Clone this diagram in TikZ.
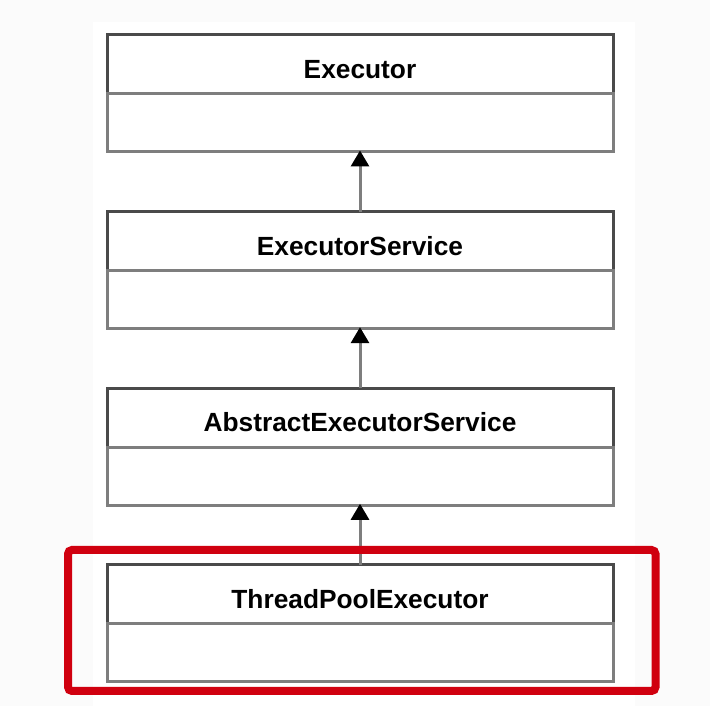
\documentclass[tikz,border=0pt]{standalone}
\usepackage{fontspec}
\setmainfont{Liberation Sans}
\usetikzlibrary{arrows.meta}
\definecolor{bgout}{HTML}{FBFBFB}
\definecolor{hdline}{HTML}{4A4A4A}
\definecolor{bdline}{HTML}{7E7E7E}
\definecolor{hilite}{HTML}{D0000F}
\tikzset{
  x=1pt, y=1pt,
  header/.style={draw=hdline, line width=3pt, fill=white, minimum width=506pt, minimum height=59pt,
    inner sep=0pt, outer sep=0pt, text height=28.3pt, text depth=0pt, font=\fontsize{26.3}{28}\selectfont\bfseries, text=black},
  body/.style={draw=bdline, line width=3pt, minimum width=506pt, minimum height=58pt, inner sep=0pt, outer sep=0pt},
  inherit/.style={draw=bdline, line width=3pt, -{Triangle[color=black, width=18pt, length=16pt]}, shorten >=-1.5pt},
  focus/.style={draw=hilite, line width=8pt, rounded corners=4pt}
}
\begin{document}
\begin{tikzpicture}
\useasboundingbox (0,0) rectangle (710,706);
\fill[bgout] (0,0) rectangle (710,706);
\fill[white] (93,0) rectangle (635,684);
% class boxes: top image y = 35 + 176.67*(i-1)
\node[header] (h1) at (360,{706-35-29.5}) {Executor};
\node[body, anchor=north] (b1) at (h1.south) {};
\node[header] (h2) at (360,{706-211.67-29.5}) {ExecutorService};
\node[body, anchor=north] (b2) at (h2.south) {};
\node[header] (h3) at (360,{706-388.33-29.5}) {AbstractExecutorService};
\node[body, anchor=north] (b3) at (h3.south) {};
\node[header] (h4) at (360,{706-565-29.5}) {ThreadPoolExecutor};
\node[body, anchor=north] (b4) at (h4.south) {};
% inheritance arrows
\draw[inherit] (h2.north) -- (b1.south);
\draw[inherit] (h3.north) -- (b2.south);
\draw[inherit] (h4.north) -- (b3.south);
% highlight
\draw[focus] (68,{706-550}) rectangle (655.5,{706-691});
\end{tikzpicture}
\end{document}
